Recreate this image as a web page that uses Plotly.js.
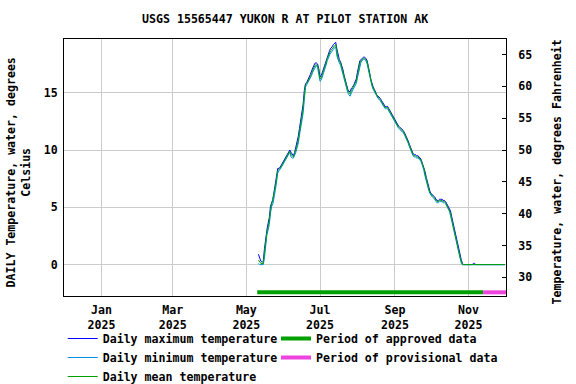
<!DOCTYPE html>
<html>
<head>
<meta charset="utf-8">
<script src="https://cdn.plot.ly/plotly-3.0.1.min.js"></script>
<style>html,body{margin:0;padding:0;background:#fff;}#chart{width:576px;height:384px;}</style>
</head>
<body>
<div id="chart"></div>
<script>
// ---- Data (daily values, degrees Celsius) ----
const SITE_TITLE = "USGS 15565447 YUKON R AT PILOT STATION AK";
const LEFT_AXIS_TITLE = "DAILY Temperature, water, degrees<br>Celsius";
const RIGHT_AXIS_TITLE = "Temperature, water, degrees Fahrenheit";
const FIRST_DAY = "2025-05-11"; // first day of the daily series

const dailyMax = [
  0.9, 0.5, 0.3, 0.2, 0.3, 1.4, 2.5, 3.0, 3.6, 4.1,
  5.1, 5.5, 5.7, 6.4, 7.1, 7.8, 8.4, 8.4, 8.5, 8.7,
  8.9, 9.1, 9.3, 9.5, 9.7, 9.9, 10.0, 9.8, 9.6, 9.5,
  9.8, 10.2, 10.6, 11.2, 11.9, 12.5, 13.2, 14.0, 15.2, 15.8,
  15.9, 16.1, 16.3, 16.6, 16.9, 17.2, 17.4, 17.6, 17.6, 17.5,
  17.1, 16.4, 16.5, 16.8, 17.1, 17.5, 17.9, 18.2, 18.4, 18.7,
  18.9, 19.0, 19.2, 19.3, 19.4, 18.8, 18.2, 17.9, 17.7, 17.4,
  17.0, 16.5, 16.0, 15.6, 15.3, 15.1, 15.1, 15.4, 15.5, 15.7,
  15.9, 16.2, 16.8, 17.4, 17.8, 17.9, 18.0, 18.1, 18.1, 18.0,
  17.8, 17.4, 16.8, 16.2, 15.8, 15.5, 15.3, 15.0, 14.8, 14.7,
  14.6, 14.5, 14.3, 14.1, 13.9, 13.8, 13.8, 13.8, 13.6, 13.4,
  13.2, 13.0, 12.9, 12.6, 12.4, 12.2, 12.1, 12.0, 11.9, 11.8,
  11.7, 11.5, 11.3, 11.1, 10.8, 10.5, 10.2, 9.9, 9.7, 9.6,
  9.6, 9.5, 9.5, 9.4, 9.3, 9.1, 8.8, 8.5, 8.1, 7.6,
  7.1, 6.7, 6.4, 6.2, 6.1, 6.0, 5.9, 5.7, 5.6, 5.6,
  5.7, 5.7, 5.7, 5.6, 5.6, 5.5, 5.3, 5.1, 4.9, 4.7,
  4.2, 3.7, 3.3, 2.8, 2.2, 1.7, 1.2, 0.8, 0.4, 0.1,
  0.0, 0.0, 0.0, 0.0, 0.0, 0.0, 0.0, 0.0, 0.1, 0.1,
  0.0, 0.0, 0.0, 0.0, 0.0, 0.0, 0.0, 0.0, 0.0, 0.0,
  0.0, 0.0, 0.0, 0.0, 0.0, 0.0, 0.0, 0.0, 0.0, 0.0,
  0.0, 0.0, 0.0, 0.0, 0.0
];

const dailyMin = [
  0.1, 0.0, 0.0, 0.0, 0.0, 0.6, 1.9, 2.6, 3.0, 3.5,
  4.5, 5.1, 5.3, 5.8, 6.5, 7.2, 8.0, 8.2, 8.3, 8.5,
  8.7, 8.9, 9.1, 9.3, 9.5, 9.7, 9.8, 9.4, 9.3, 9.3,
  9.5, 9.8, 10.2, 10.6, 11.3, 11.9, 12.6, 13.2, 14.4, 15.5,
  15.7, 15.9, 16.0, 16.2, 16.5, 16.8, 17.0, 17.2, 17.4, 17.2,
  16.6, 16.0, 16.1, 16.4, 16.7, 17.1, 17.4, 17.8, 18.1, 18.3,
  18.5, 18.6, 18.8, 18.9, 19.0, 18.2, 17.8, 17.6, 17.4, 17.0,
  16.6, 16.1, 15.6, 15.3, 15.0, 14.8, 14.7, 15.0, 15.2, 15.5,
  15.6, 15.8, 16.3, 16.8, 17.4, 17.7, 17.8, 17.9, 17.9, 17.8,
  17.5, 17.0, 16.4, 15.8, 15.6, 15.3, 15.1, 14.8, 14.6, 14.5,
  14.4, 14.3, 14.1, 13.9, 13.7, 13.6, 13.6, 13.6, 13.4, 13.2,
  13.0, 12.8, 12.7, 12.4, 12.2, 12.0, 11.9, 11.8, 11.7, 11.6,
  11.5, 11.3, 11.1, 10.9, 10.6, 10.3, 10.0, 9.7, 9.5, 9.4,
  9.4, 9.3, 9.3, 9.2, 9.1, 8.9, 8.6, 8.2, 7.7, 7.2,
  6.9, 6.5, 6.2, 6.0, 5.9, 5.8, 5.7, 5.5, 5.4, 5.4,
  5.5, 5.5, 5.5, 5.4, 5.4, 5.3, 5.1, 4.9, 4.7, 4.3,
  3.8, 3.3, 2.9, 2.4, 1.8, 1.3, 0.8, 0.4, 0.1, 0.0,
  0.0, 0.0, 0.0, 0.0, 0.0, 0.0, 0.0, 0.0, 0.0, 0.0,
  0.0, 0.0, 0.0, 0.0, 0.0, 0.0, 0.0, 0.0, 0.0, 0.0,
  0.0, 0.0, 0.0, 0.0, 0.0, 0.0, 0.0, 0.0, 0.0, 0.0,
  0.0, 0.0, 0.0, 0.0, 0.0
];

const dailyMean = [
  0.4, 0.2, 0.1, 0.1, 0.1, 1.0, 2.2, 2.8, 3.3, 3.8,
  4.8, 5.3, 5.5, 6.1, 6.8, 7.5, 8.2, 8.3, 8.4, 8.6,
  8.8, 9.0, 9.2, 9.4, 9.6, 9.8, 9.9, 9.6, 9.5, 9.4,
  9.7, 10.0, 10.4, 10.9, 11.6, 12.2, 12.9, 13.6, 14.8, 15.7,
  15.8, 16.0, 16.1, 16.4, 16.7, 17.0, 17.2, 17.4, 17.5, 17.4,
  16.9, 16.2, 16.3, 16.6, 16.9, 17.3, 17.6, 18.0, 18.3, 18.5,
  18.7, 18.8, 19.0, 19.1, 19.2, 18.5, 18.0, 17.8, 17.6, 17.2,
  16.8, 16.3, 15.8, 15.5, 15.2, 15.0, 14.9, 15.2, 15.4, 15.6,
  15.7, 16.0, 16.5, 17.1, 17.6, 17.8, 17.9, 18.0, 18.0, 17.9,
  17.7, 17.2, 16.6, 16.0, 15.7, 15.4, 15.2, 14.9, 14.7, 14.6,
  14.5, 14.4, 14.2, 14.0, 13.8, 13.7, 13.7, 13.7, 13.5, 13.3,
  13.1, 12.9, 12.8, 12.5, 12.3, 12.1, 12.0, 11.9, 11.8, 11.7,
  11.6, 11.4, 11.2, 11.0, 10.7, 10.4, 10.1, 9.8, 9.6, 9.5,
  9.5, 9.4, 9.4, 9.3, 9.2, 9.0, 8.7, 8.4, 7.9, 7.4,
  7.0, 6.6, 6.3, 6.1, 6.0, 5.9, 5.8, 5.6, 5.5, 5.5,
  5.6, 5.6, 5.6, 5.5, 5.5, 5.4, 5.2, 5.0, 4.8, 4.5,
  4.0, 3.5, 3.1, 2.6, 2.0, 1.5, 1.0, 0.6, 0.3, 0.0,
  0.0, 0.0, 0.0, 0.0, 0.0, 0.0, 0.0, 0.0, 0.0, 0.0,
  0.0, 0.0, 0.0, 0.0, 0.0, 0.0, 0.0, 0.0, 0.0, 0.0,
  0.0, 0.0, 0.0, 0.0, 0.0, 0.0, 0.0, 0.0, 0.0, 0.0,
  0.0, 0.0, 0.0, 0.0, 0.0
];

// Data-approval periods
const approvedPeriod = ["2025-05-10", "2025-11-13"];
const provisionalPeriod = ["2025-11-13", "2025-12-03"];
const periodBarLevel = -2.42; // degrees C, drawn under the data

// Axis ticks
const xTickVals = ["2025-01-01", "2025-03-01", "2025-05-01", "2025-07-01", "2025-09-01", "2025-11-01"];
const xTickText = ["Jan<br>2025", "Mar<br>2025", "May<br>2025", "Jul<br>2025", "Sep<br>2025", "Nov<br>2025"];
const celsiusTicks = [0, 5, 10, 15];
const fahrenheitTicks = [30, 35, 40, 45, 50, 55, 60, 65];
const xRange = ["2024-12-01", "2025-12-02"];
const celsiusRange = [-2.74, 19.69];

// ---- Build date column ----
function buildDates(start, n) {
  const out = [];
  const d0 = new Date(start + "T00:00:00Z");
  for (let i = 0; i < n; i++) {
    const d = new Date(d0.getTime() + i * 86400000);
    out.push(d.toISOString().slice(0, 10));
  }
  return out;
}
const dates = buildDates(FIRST_DAY, dailyMean.length);
const toF = c => c * 9 / 5 + 32;

const FONT = {family: "DejaVu Sans Mono, monospace", size: 11.6, color: "#000", weight: "bold"};

const traces = [
  {x: dates, y: dailyMax, type: "scatter", mode: "lines", name: "Daily maximum temperature",
   line: {color: "#0000ff", width: 1}, legend: "legend"},
  {x: dates, y: dailyMin, type: "scatter", mode: "lines", name: "Daily minimum temperature",
   line: {color: "#0090dd", width: 1}, legend: "legend"},
  {x: dates, y: dailyMean, type: "scatter", mode: "lines", name: "Daily mean temperature",
   line: {color: "#00a000", width: 1}, legend: "legend"},
  {x: approvedPeriod, y: [periodBarLevel, periodBarLevel], type: "scatter", mode: "lines",
   name: "Period of approved data", line: {color: "#009f00", width: 4}, legend: "legend2"},
  {x: provisionalPeriod, y: [periodBarLevel, periodBarLevel], type: "scatter", mode: "lines",
   name: "Period of provisional data", line: {color: "#ee44dd", width: 4}, legend: "legend2"},
  // Fahrenheit scale: same mean series on the secondary axis, converted, invisible
  {x: dates, y: dailyMean.map(toF), type: "scatter", mode: "lines", yaxis: "y2",
   line: {color: "rgba(0,0,0,0)", width: 0}, showlegend: false, hoverinfo: "skip"}
];

const layout = {
  width: 576, height: 384,
  margin: {l: 64, r: 70, t: 39, b: 88, pad: 0, autoexpand: false},
  paper_bgcolor: "#fff", plot_bgcolor: "#fff",
  font: FONT,
  showlegend: true,
  title: {text: SITE_TITLE, font: FONT, x: 0.495, xanchor: "center", y: 1 - 19 / 384, yanchor: "middle"},
  xaxis: {
    type: "date", range: xRange, tickvals: xTickVals, ticktext: xTickText,
    showgrid: true, gridcolor: "#cccccc", gridwidth: 1,
    showline: true, linecolor: "#000", linewidth: 1, mirror: true,
    ticks: "", tickfont: FONT, ticklabelstandoff: 3, zeroline: false, automargin: false
  },
  yaxis: {
    range: celsiusRange, tickvals: celsiusTicks,
    showgrid: true, gridcolor: "#cccccc", gridwidth: 1,
    showline: true, linecolor: "#000", linewidth: 1, mirror: false,
    ticks: "", tickfont: FONT, ticklabelstandoff: 3, zeroline: false, automargin: false
  },
  yaxis2: {
    overlaying: "y", side: "right", anchor: "x",
    range: celsiusRange.map(toF), tickvals: fahrenheitTicks,
    showgrid: false, zeroline: false, showline: true, linecolor: "#000", linewidth: 1,
    ticks: "inside", ticklen: 4, tickcolor: "#000", tickfont: FONT, ticklabelstandoff: 9,
    automargin: false
  },
  annotations: [
    {text: LEFT_AXIS_TITLE, xref: "paper", yref: "paper", x: (18.4 - 64) / 441.7, y: 0.482,
     xanchor: "center", yanchor: "middle", textangle: -90, showarrow: false, font: FONT},
    {text: RIGHT_AXIS_TITLE, xref: "paper", yref: "paper", x: (557 - 64) / 441.7, y: 0.482,
     xanchor: "center", yanchor: "middle", textangle: -90, showarrow: false, font: FONT}
  ],
  legend: {
    xref: "container", yref: "container",
    x: 62.7 / 576, xanchor: "left", y: 1 - 324 / 384, yanchor: "top", orientation: "v",
    font: FONT, bgcolor: "rgba(0,0,0,0)", borderwidth: 0, tracegroupgap: 0, traceorder: "normal"
  },
  legend2: {
    xref: "container", yref: "container",
    x: 276 / 576, xanchor: "left", y: 1 - 324 / 384, yanchor: "top", orientation: "v",
    font: FONT, bgcolor: "rgba(0,0,0,0)", borderwidth: 0, tracegroupgap: 0, traceorder: "normal"
  }
};

Plotly.newPlot("chart", traces, layout, {staticPlot: true, displayModeBar: false});
</script>
</body>
</html>
